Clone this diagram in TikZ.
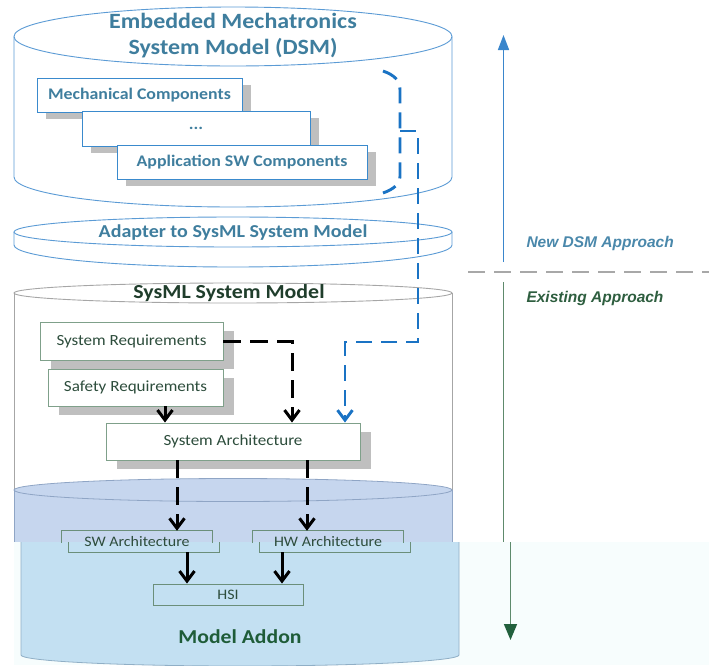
\documentclass[tikz,border=0pt]{standalone}
\usepackage{fontspec}
\setmainfont{Carlito}[FakeStretch=1.1]
\newfontfamily\tagfont{Liberation Sans}
\usetikzlibrary{arrows.meta,shadows,calc}

\definecolor{dsmline}{HTML}{5B9BD5}
\definecolor{dsmframe}{HTML}{3A8ACD}
\definecolor{dsmtext}{HTML}{3F7E9E}
\definecolor{conblue}{HTML}{1A73C4}
\definecolor{shadowgray}{HTML}{BFBFBF}
\definecolor{sysline}{HTML}{A6A6A6}
\definecolor{sysframe}{HTML}{7FA08A}
\definecolor{systext}{HTML}{2D4D3C}
\definecolor{systitle}{HTML}{1F3D2B}
\definecolor{addonA}{HTML}{C6D6EE}
\definecolor{addonAline}{HTML}{8FA5C5}
\definecolor{addonB}{HTML}{C3E0F2}
\definecolor{addonBline}{HTML}{90AFC6}
\definecolor{pastebg}{HTML}{F7FDFD}
\definecolor{newtext}{HTML}{4A88AB}
\definecolor{newline}{HTML}{3A86CC}
\definecolor{oldtext}{HTML}{2E5E3F}
\definecolor{oldline}{HTML}{5E8A6C}
\definecolor{oldtip}{HTML}{22603D}
\definecolor{divider}{HTML}{A8A8A8}
\definecolor{addontext}{HTML}{1E5C38}
\definecolor{subframe}{HTML}{6B8F7A}

\tikzset{
  dsmshape/.style={draw=dsmline, line width=0.9pt},
  dsmbox/.style={draw=dsmframe, line width=0.9pt, fill=white, inner sep=0pt, text=dsmtext,
    font=\bfseries\fontsize{16.2}{19}\selectfont,
    drop shadow={shadow xshift=9pt, shadow yshift=-7pt, fill=shadowgray, opacity=1}},
  sysbox/.style={draw=sysframe, line width=0.9pt, fill=white, inner sep=0pt, text=systext,
    font=\fontsize{15.5}{18}\selectfont,
    drop shadow={shadow xshift=11pt, shadow yshift=-9pt, fill=shadowgray, opacity=1}},
  subbox/.style={inner sep=0pt, text=systext, font=\fontsize{14.5}{17}\selectfont},
  subline/.style={draw=subframe, line width=0.9pt},
  blacklink/.style={line width=3pt, black, -{Straight Barb[length=10pt,width=15pt]}},
  blackdash/.style={blacklink, dash pattern=on 18pt off 9pt},
  bluelink/.style={line width=2.9pt, conblue, dash pattern=on 16pt off 9pt},
  tagtext/.style={font=\tagfont\bfseries\itshape\fontsize{15.5}{18}\selectfont},
}

\begin{document}
\begin{tikzpicture}[x=1pt,y=1pt]
\useasboundingbox (0,0) rectangle (709,-665);

% ---------- cylinders, upper band ----------
\begin{scope}
\clip (0,0) rectangle (709,-542);
  % SysML System Model cylinder
  \draw[sysline, line width=0.9pt] (14,-293) -- (14,-560) (452,-293) -- (452,-560);
  \draw[sysline, line width=0.9pt] (233,-293) ellipse [x radius=219, y radius=10];
  % Model Addon cylinder, upper section
  \path[fill=addonA, draw=addonAline, line width=0.8pt]
    (14,-490) -- (14,-560) -- (452,-560) -- (452,-490);
  \path[fill=addonA, draw=addonAline, line width=0.8pt]
    (233,-490) ellipse [x radius=219, y radius=11.5];
  % green "existing" line, upper section
  \coordinate (oldtop) at (503.5,-282);
  \coordinate (oldcut) at (503.5,-560);
  \draw[oldline, line width=1.6pt] (oldtop) -- (oldcut);
\end{scope}

% DSM cylinder
\path[fill=white, dsmshape] (14,-36.5) -- (14,-177)
  arc[start angle=180, end angle=360, x radius=219, y radius=30] -- (452,-36.5);
\path[fill=white, dsmshape] (233,-36.5) ellipse [x radius=219, y radius=29.5];
\node[align=center, text=dsmtext, font=\bfseries\fontsize{21.8}{26}\selectfont]
  (dsmtitle) at (233,-36) {Embedded Mechatronics\\System Model (DSM)};

% adapter disc
\path[fill=white, dsmshape] (14,-232) -- (14,-245)
  arc[start angle=180, end angle=360, x radius=219, y radius=22] -- (452,-232);
\path[fill=white, dsmshape] (233,-232) ellipse [x radius=219, y radius=15];
\node[text=dsmtext, font=\bfseries\fontsize{18.2}{21}\selectfont]
  (adapter) at (233,-233) {Adapter to SysML System Model};

\node[text=systitle, font=\bfseries\fontsize{19.9}{23}\selectfont]
  (systitle) at (229,-293) {SysML System Model};

% ---------- lower band ----------
\fill[pastebg] (14,-542) rectangle (709,-665);
\begin{scope}
\clip (0,-542) rectangle (709,-665);
  \begin{scope}[xshift=7pt]
    \path[fill=addonB, draw=addonBline, line width=0.8pt] (14,-500) -- (14,-655)
      arc[start angle=180, end angle=360, x radius=219, y radius=11] -- (452,-500);
  \end{scope}
  \coordinate (oldjoin) at (510.5,-530);
  \coordinate (oldend) at (510.5,-640);
  \draw[oldline, line width=1.6pt, -{Triangle[length=16pt,width=13pt,color=oldtip]}]
    (oldjoin) -- (oldend);
\end{scope}
\node[text=addontext, font=\bfseries\fontsize{19.7}{23}\selectfont]
  (addon) at (240,-637) {Model Addon};

% ---------- DSM components ----------
\node[dsmbox, minimum width=205pt, minimum height=34pt] (mech) at (139.5,-95)
  {Mechanical Components};
\node[dsmbox, minimum width=228pt, minimum height=35pt] (dots) at (196,-128.5) {...};
\node[dsmbox, minimum width=250pt, minimum height=34pt] (appsw) at (242,-162)
  {Application SW Components};

% ---------- SysML elements ----------
\node[sysbox, minimum width=183pt, minimum height=38pt] (sysreq) at (131.5,-341)
  {System Requirements};
\node[sysbox, minimum width=175pt, minimum height=37pt] (safety) at (135.5,-387.5)
  {Safety Requirements};
\node[sysbox, minimum width=254pt, minimum height=37pt] (sysarch) at (233,-441.5)
  {System Architecture};

\node[subbox, minimum width=150pt, minimum height=21pt] (swarch) at (137,-541.5)
  {SW Architecture};
\node[subbox, minimum width=150pt, minimum height=21pt] (hwarch) at (328,-541.5)
  {HW Architecture};
\node[subbox, draw=subframe, line width=0.9pt, minimum width=150pt, minimum height=21pt]
  (hsi) at (228,-594.5) {HSI};

% SW / HW frames, offset across the band edge
\begin{scope}
\clip (0,0) rectangle (709,-542);
  \draw[subline] (swarch.south west) rectangle (swarch.north east);
  \draw[subline] (hwarch.south west) rectangle (hwarch.north east);
\end{scope}
\begin{scope}
\clip (0,-542) rectangle (709,-665);
  \draw[subline] ([xshift=7pt]swarch.south west) rectangle ([xshift=7pt]swarch.north east);
  \draw[subline] ([xshift=7pt]hwarch.south west) rectangle ([xshift=7pt]hwarch.north east);
\end{scope}

% ---------- DSM bracket and link into the SysML model ----------
\coordinate (brtop) at (383,-71);
\coordinate (brmid) at (400,-131);
\coordinate (brbot) at (383,-193);
\draw[bluelink] (brtop) .. controls (394,-75) and (400,-80) .. (400,-90)
  -- (400,-176) .. controls (400,-184) and (394,-189) .. (brbot);
\draw[bluelink, -{Straight Barb[length=10pt,width=15pt]}]
  (brmid) -| (418,-342) -| ([xshift=112pt]sysarch.north);

% ---------- SysML flows ----------
\draw[blackdash] (sysreq.east) -| ([xshift=59pt]sysarch.north);
\draw[blacklink] ([xshift=29.5pt]safety.south) -- ([xshift=29.5pt]safety.south |- sysarch.north);
\draw[blackdash] ([xshift=-56pt]sysarch.south) -- ([xshift=-56pt]sysarch.south |- swarch.north);
\draw[blackdash] ([xshift=74pt]sysarch.south) -- ([xshift=74pt]sysarch.south |- hwarch.north);
\draw[blacklink] ([xshift=50pt]swarch.south) -- ([xshift=50pt]swarch.south |- hsi.north);
\draw[blacklink] ([xshift=-46pt]hwarch.south) -- ([xshift=-46pt]hwarch.south |- hsi.north);

% ---------- approach markers ----------
\coordinate (newlow) at (503.5,-262);
\coordinate (newtop) at (503.5,-35);
\draw[newline, line width=1.6pt, -{Triangle[length=15pt,width=11pt]}] (newlow) -- (newtop);
\coordinate (divL) at (468,-272);
\coordinate (divR) at (709,-272);
\draw[divider, line width=1.8pt, dash pattern=on 17pt off 9pt] (divL) -- (divR);
\node[tagtext, text=newtext, anchor=west] (newtag) at (523,-243) {New DSM Approach};
\node[tagtext, text=oldtext, anchor=west] (oldtag) at (523,-298) {Existing Approach};
\end{tikzpicture}
\end{document}
